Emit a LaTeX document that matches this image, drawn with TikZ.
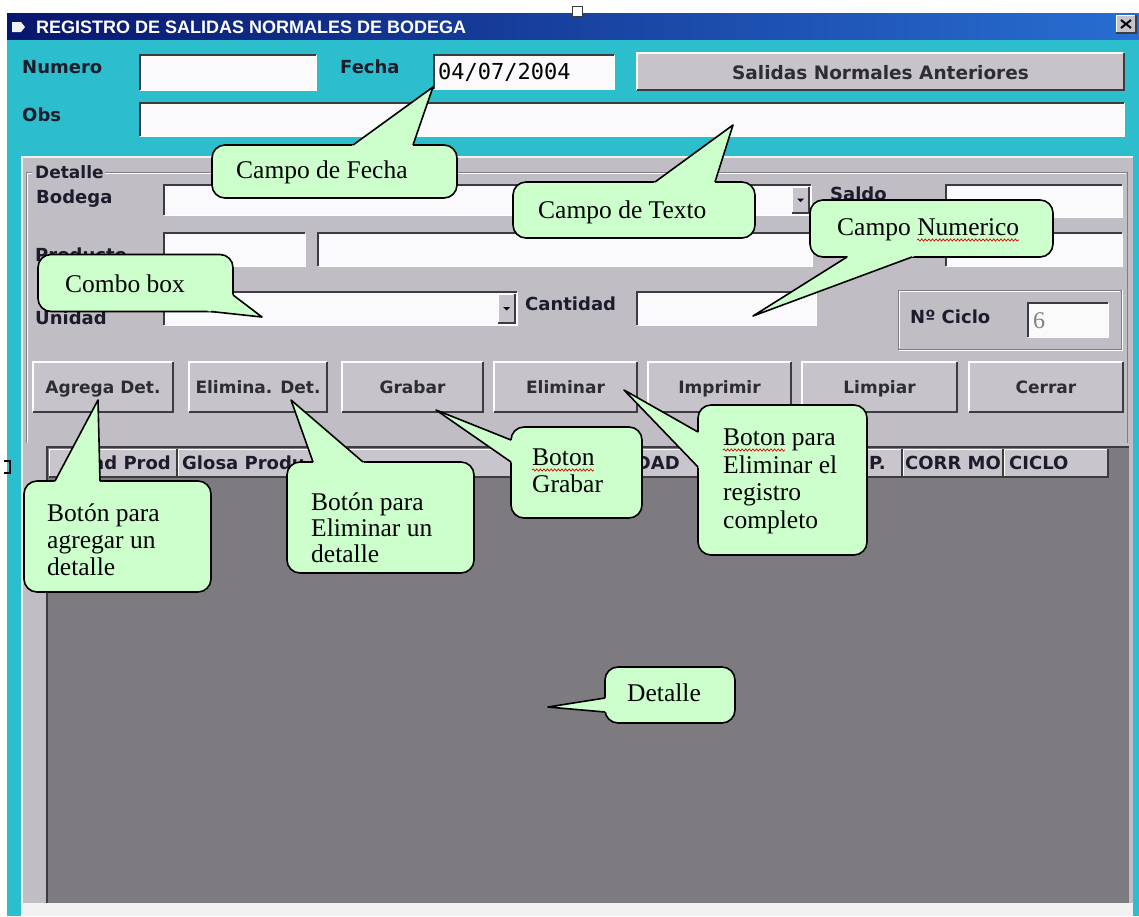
\documentclass[tikz,border=0pt]{standalone}
\usepackage{fontspec}
\setmainfont{Liberation Serif}
\newfontfamily\uifont{DejaVu Sans}
\newfontfamily\titlefam{Liberation Sans}
\newfontfamily\monofam{DejaVu Sans Mono}
\usetikzlibrary{calc,decorations.pathmorphing}

\definecolor{cyanbg}{RGB}{44,190,205}
\definecolor{panelgray}{RGB}{192,190,196}
\definecolor{darkgrid}{RGB}{126,123,128}
\definecolor{cgreen}{RGB}{204,255,204}
\definecolor{uitext}{RGB}{28,28,44}
\definecolor{btntextc}{RGB}{45,45,50}
\definecolor{titleL}{RGB}{8,22,110}
\definecolor{titleR}{RGB}{40,110,210}
\definecolor{edgedark}{RGB}{60,60,64}
\definecolor{btnface}{RGB}{198,196,202}
\definecolor{hdrgray}{RGB}{200,198,204}
\definecolor{fieldwhite}{RGB}{250,250,252}
\definecolor{groovedark}{RGB}{128,126,132}

\newcommand\fieldbox[5]{%
  \fill[fieldwhite] (#2,#3) rectangle (#4,#5);
  \draw[edgedark, line width=1.6pt] (#2,#5) -- (#2,#3) -- (#4,#3);
  \draw[white, line width=1pt] (#4,#3) -- (#4,#5) -- (#2,#5);
  \coordinate (#1) at ({(#2+#4)/2},{(#3+#5)/2});}

\newcommand\btn[7]{%
  \fill[btnface] (#2,#3) rectangle (#4,#5);
  \draw[white, line width=1.5pt] (#2,#5) -- (#2,#3) -- (#4,#3);
  \draw[edgedark, line width=1.8pt] (#4,#3) -- (#4,#5) -- (#2,#5);
  \node[btntext] (#1) at ({(#2+#4)/2},#6) {#7};}

\newcommand\ddbtn[5]{%
  \fill[btnface] (#2,#3) rectangle (#4,#5);
  \draw[white, line width=1pt] (#2,#5) -- (#2,#3) -- (#4,#3);
  \draw[edgedark, line width=1.2pt] (#4,#3) -- (#4,#5) -- (#2,#5);
  \coordinate (#1) at ({(#2+#4)/2},{(#3+#5)/2});
  \fill[black] ($(#1)+(-3.5,-1.5)$) -- ($(#1)+(3.5,-1.5)$) -- ($(#1)+(0,2)$) -- cycle;}

\newcommand\ptr[3]{%
  \fill[cgreen] ($#1!-4pt!#2$) -- #2 -- ($#3!-4pt!#2$) -- cycle;
  \draw[pline] #1 -- #2 -- #3;}

\begin{document}
\begin{tikzpicture}[x=1pt,y=-1pt,
  uilabel/.style={font=\uifont\bfseries\fontsize{18}{20}\selectfont, text=uitext, anchor=base west, inner sep=0pt},
  btntext/.style={font=\uifont\bfseries\fontsize{17}{19}\selectfont, text=btntextc, anchor=base, inner sep=0pt},
  hdrtext/.style={font=\uifont\bfseries\fontsize{18}{20}\selectfont, text=uitext, inner sep=0pt},
  callout/.style={draw=black, line width=1.6pt, fill=cgreen, rounded corners=13pt, inner sep=0pt},
  ctext/.style={font=\fontsize{25.5}{28}\selectfont, text=black, anchor=base west, inner sep=0pt},
  pline/.style={draw=black, line width=1.6pt, line join=round},
  squiggle/.style={red!85!black, line width=0.7pt, decorate, decoration={snake, amplitude=1.1pt, segment length=3.6pt}}]

\useasboundingbox (0,0) rectangle (1139,916);
\fill[white] (0,0) rectangle (1139,916);

% window background
\shade[left color=titleL, right color=titleR] (7,13) rectangle (1139,40);
\fill[cyanbg] (7,40) rectangle (1139,916);
\fill[white!88!gray] (12,22) -- (21,22) -- (25,27) -- (21,32) -- (12,32) -- cycle;
\node[font=\titlefam\bfseries\fontsize{18}{20}\selectfont, text=white, anchor=base west, inner sep=0pt] (title) at (36,33) {REGISTRO DE SALIDAS NORMALES DE BODEGA};
% close button
\fill[btnface] (1116,15) rectangle (1136,33);
\draw[white, line width=1pt] (1116,33) -- (1116,15) -- (1136,15);
\draw[edgedark, line width=1.2pt] (1136,15) -- (1136,33) -- (1116,33);
\coordinate (closebtn) at (1126,24);
\draw[black, line width=2pt] (1121,20) -- (1131,28) (1131,20) -- (1121,28);
% small marks
\draw[fill=white, draw=edgedark, line width=0.8pt] (572,6) rectangle (582,16);
\draw[black, line width=1.2pt] (4,461) -- (10,461) -- (10,473) -- (4,473);

% top row
\node[uilabel] (lnumero) at (22,73) {Numero};
\fieldbox{numbox}{140}{55}{316}{90}
\node[uilabel] (lfecha) at (340,73) {Fecha};
\fieldbox{datebox}{434}{55}{614}{89}
\node[font=\monofam\fontsize{22}{24}\selectfont, text=black, anchor=base west, inner sep=0pt] (datetxt) at (438,79) {04/07/2004};
\btn{bsalidas}{637}{53}{1124}{90}{79}{\fontsize{18.5}{20}\selectfont Salidas Normales Anteriores}
\node[uilabel] (lobs) at (22,121) {Obs};
\fieldbox{obsbox}{140}{103}{1124}{136}

% panel
\fill[panelgray] (22,157) rectangle (1133,916);
\draw[white!80!panelgray, line width=1.5pt] (22,916) -- (22,157) -- (1133,157);
\draw[groovedark, line width=1pt] (26,443) -- (26,172) -- (32,172) (105,172) -- (1127,172) -- (1127,443);
\draw[white, line width=1pt] (27,443) -- (27,173) -- (32,173) (105,173) -- (1126,173);
\node[uilabel, font=\uifont\bfseries\fontsize{17}{19}\selectfont] (ldetalle) at (35,178) {Detalle};

\node[uilabel] (lbodega) at (36,203) {Bodega};
\fieldbox{bodegabox}{164}{185}{811}{215}
\ddbtn{bodegadd}{792}{187}{809}{213}
\node[uilabel] (lsaldo) at (830,200) {Saldo};
\fieldbox{saldobox}{946}{185}{1122}{217}

\node[uilabel] (lproducto) at (35,261) {Producto};
\fieldbox{prodbox1}{164}{233}{305}{266}
\fieldbox{prodbox2}{318}{233}{812}{266}
\fieldbox{prodbox3}{946}{233}{1122}{266}

\node[uilabel] (lunidad) at (35,324) {Unidad};
\fieldbox{unidadbox}{164}{292}{517}{325}
\ddbtn{unidaddd}{498}{294}{515}{323}
\node[uilabel] (lcantidad) at (525,310) {Cantidad};
\fieldbox{cantbox}{637}{292}{816}{325}

% ciclo frame
\draw[groovedark, line width=1pt] (898,290) rectangle (1121,349);
\draw[white, line width=1pt] (899,291) -- (1120,291) (899,291) -- (899,348) (899,350) -- (1122,350) -- (1122,290);
\node[uilabel] (lciclo) at (910,323) {Nº Ciclo};
\fill[white!96!gray] (1028,303) rectangle (1108,337);
\draw[edgedark, line width=1.6pt] (1028,337) -- (1028,303) -- (1108,303);
\draw[white, line width=1pt] (1108,303) -- (1108,337) -- (1028,337);
\node[font=\fontsize{24}{26}\selectfont, text=gray, anchor=base west, inner sep=0pt] (cicloval) at (1033,328) {6};

% buttons
\btn{bagrega}{33}{362}{173}{412}{393}{Agrega Det.}
\btn{belimina}{189}{362}{327}{412}{393}{Elimina. Det.}
\btn{bgrabar}{342}{362}{483}{412}{393}{Grabar}
\btn{beliminar}{494}{362}{637}{412}{393}{Eliminar}
\btn{bimprimir}{648}{362}{791}{412}{393}{Imprimir}
\btn{blimpiar}{802}{362}{957}{412}{393}{Limpiar}
\btn{bcerrar}{969}{362}{1123}{412}{393}{Cerrar}

% grid
\fill[darkgrid] (47,447) rectangle (1129,903);
\draw[edgedark, line width=1.2pt] (47,903) -- (47,447) -- (1129,447);
\fill[hdrgray] (49,449) rectangle (1108,477);
\draw[white, line width=1pt] (49,477) -- (49,449) -- (1108,449);
\draw[edgedark, line width=1.2pt] (49,477) -- (1108,477) -- (1108,449);
\foreach \xx in {177,560,750,902,1003} {
  \draw[edgedark, line width=1.2pt] (\xx,449) -- (\xx,477);
  \draw[white, line width=0.8pt] (\xx+1.5,450) -- (\xx+1.5,476);}
\node[hdrtext, anchor=base west] (hcod) at (92,469) {ad Prod};
\node[hdrtext, anchor=base west] (hglosa) at (182,469) {Glosa Produ};
\node[hdrtext, anchor=base east] (hdad) at (680,469) {DAD};
\node[hdrtext, anchor=base east] (hp) at (886,469) {P.};
\node[hdrtext, anchor=base west] (hcorr) at (905,469) {CORR MO};
\node[hdrtext, anchor=base west] (hciclo) at (1009,469) {CICLO};
\fill[white!80!panelgray] (22,903) rectangle (1133,916);

% callouts
\node[callout, minimum width=245pt, minimum height=53pt] (cfecha) at (334.5,171.5) {};
\coordinate (fecha-tip) at (433,87);
\ptr{(353,145)}{(fecha-tip)}{(413,145)}
\node[ctext] (tfecha) at (236,178) {Campo de Fecha};

\node[callout, minimum width=242pt, minimum height=56pt] (ctexto) at (634,210) {};
\coordinate (texto-tip) at (733,125);
\ptr{(655,182)}{(texto-tip)}{(715,182)}
\node[ctext] (ttexto) at (538,218) {Campo de Texto};

\node[callout, minimum width=243pt, minimum height=57pt] (cnum) at (931.5,228.5) {};
\coordinate (num-tip) at (753,316);
\ptr{(847,257)}{(num-tip)}{(912,257)}
\node[ctext] (tnum) at (837,235) {Campo Numerico};

\node[callout, minimum width=195pt, minimum height=57pt] (ccombo) at (135.5,283) {};
\coordinate (combo-tip) at (262,317);
\ptr{(211,311.5)}{(combo-tip)}{(233,295)}
\node[ctext] (tcombo) at (65,292) {Combo box};

\node[callout, minimum width=187pt, minimum height=111pt] (cagrega) at (117.5,536.5) {};
\coordinate (agrega-tip) at (98,400);
\ptr{(55,481)}{(agrega-tip)}{(100,481)}
\node[ctext] (tagrega1) at (47,521) {Botón para};
\node[ctext] (tagrega2) at (47,548) {agregar un};
\node[ctext] (tagrega3) at (47,575) {detalle};

\node[callout, minimum width=187pt, minimum height=111pt] (celimina) at (380.5,517.5) {};
\coordinate (elimina-tip) at (291,400);
\ptr{(313,462)}{(elimina-tip)}{(363,462)}
\node[ctext] (telimina1) at (311,510) {Botón para};
\node[ctext] (telimina2) at (311,536) {Eliminar un};
\node[ctext] (telimina3) at (311,562) {detalle};

\node[callout, minimum width=131pt, minimum height=91pt] (cgrabar) at (576.5,472.5) {};
\coordinate (grabar-tip) at (436,410);
\ptr{(511,440)}{(grabar-tip)}{(511,462)}
\node[ctext] (tgrabar1) at (532,465) {Boton};
\node[ctext] (tgrabar2) at (532,492) {Grabar};

\node[callout, minimum width=169pt, minimum height=150pt] (celiminar) at (782.5,480) {};
\coordinate (eliminar-tip) at (624,390);
\ptr{(698,432)}{(eliminar-tip)}{(698,467)}
\node[ctext] (teliminar1) at (723,445) {Boton para};
\node[ctext] (teliminar2) at (723,473) {Eliminar el};
\node[ctext] (teliminar3) at (723,500) {registro};
\node[ctext] (teliminar4) at (723,528) {completo};

\node[callout, minimum width=130pt, minimum height=56pt] (cdetalle) at (670,695) {};
\coordinate (detalle-tip) at (548,707);
\ptr{(605,698)}{(detalle-tip)}{(605,712)}
\node[ctext] (tdetalle) at (627,701) {Detalle};

% spelling marks
\draw[squiggle] (917,240) -- (1019,240);
\draw[squiggle] (532,470) -- (594,470);
\draw[squiggle] (723,450) -- (785,450);

\end{tikzpicture}
\end{document}
